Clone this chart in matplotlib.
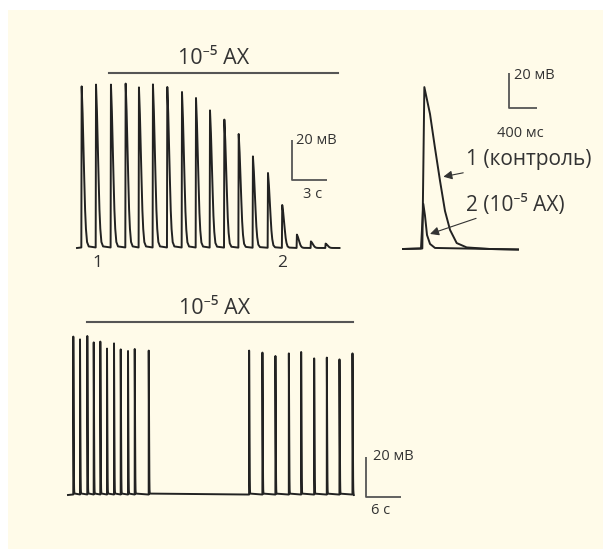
import numpy as np
import matplotlib
matplotlib.use("Agg")
import matplotlib.pyplot as plt
from matplotlib.patches import Rectangle

plt.rcParams['font.family'] = ['Open Sans', 'Noto Sans', 'DejaVu Sans']

# ---------------- data ----------------
# Inset: single action potentials (time in ms, voltage in mV above baseline)
control_t_ms = [0, 276, 305, 386, 457, 529, 600, 672, 767, 910, 1243, 1643]
control_mv = [0, 0.3, 92.5, 77.1, 57.7, 38.9, 21.7, 10.9, 3.4, 0.9, 0, -0.3]
ax_t_ms = [0, 257, 290, 314, 343, 386, 457, 1643]
ax_mv = [0, 0.3, 25.8, 19.1, 8.0, 2.9, 0.6, -0.3]

# Top trace: spike peak times (s) and amplitudes (mV)
top_spike_t = [0.40, 1.63, 2.91, 4.17, 5.31, 6.51, 7.74, 9.00, 10.20, 11.40,
               12.63, 13.86, 15.08, 16.37, 17.59, 18.85, 20.05, 21.31]
top_spike_amp = [80.8, 81.7, 81.7, 82.2, 80.3, 81.8, 80.5, 78.0, 75.0, 68.8,
                 64.2, 57.0, 45.8, 37.5, 21.5, 6.7, 3.3, 2.2]
top_duration = 22.5
top_drug = (2.77, 22.4)

# Bottom trace: spike peak times (s) and amplitudes (mV)
bot_spike_t = [0.91, 2.06, 3.31, 4.41, 5.54, 6.69, 7.89, 9.04, 10.29, 11.44,
               13.84, 31.05, 33.33, 35.56, 37.86, 39.97, 42.20, 44.37, 46.54, 48.77]
bot_spike_amp = [79.2, 77.8, 79.5, 76.3, 76.7, 73.2, 75.8, 72.8, 72.0, 73.0,
                 72.2, 72.2, 71.2, 69.5, 70.8, 71.5, 68.3, 68.7, 67.8, 70.8]
bot_duration = 49.0
bot_drug = (3.2, 48.9)

drug_label = "10\u207b\u2075 AX"

# ---------------- helpers ----------------
W, H = 603, 549
fig = plt.figure(figsize=(W / 100, H / 100), dpi=100)
fig.patch.set_facecolor('white')
fig.patches.append(Rectangle((8 / W, 0), 1, 1 - 10 / H, transform=fig.transFigure,
                             facecolor='#fffbe9', edgecolor='none', zorder=-10))

TRACE = '#222222'
GREY = '#555555'
TXT = '#333333'


def make_axes(ox, oy, sx, sy, xlim, ylim):
    """ox, oy: pixel position of data origin; sx, sy: pixels per data unit."""
    left = (ox + sx * xlim[0]) / W
    right = (ox + sx * xlim[1]) / W
    top_px = oy - sy * ylim[1]
    bot_px = oy - sy * ylim[0]
    a = fig.add_axes([left, 1 - bot_px / H, right - left, (bot_px - top_px) / H])
    a.set_xlim(xlim)
    a.set_ylim(ylim)
    a.axis('off')
    a.patch.set_alpha(0)
    return a


# spike template (shape) taken from the control potential, relative to its peak
pk = int(np.argmax(control_mv))
tmpl_t = (np.array(control_t_ms[1:-2]) - control_t_ms[pk]) / 1000.0
tmpl_f = np.array(control_mv[1:-2]) / control_mv[pk]


def build_trace(times, amps, duration, width=1.0):
    ts, vs = [0.0], [0.0]
    for t, a in zip(times, amps):
        ts.extend(t + width * tmpl_t)
        vs.extend(a * tmpl_f)
    ts.append(duration)
    vs.append(0.0)
    return np.array(ts), np.array(vs)


def scale_bar(a, x, y, dx, dy, lab_v, lab_h, v_txt_xy, h_txt_xy, fs=10.5):
    a.plot([x, x, x + dx], [y + dy, y, y], color=GREY, lw=1.3, solid_capstyle='butt',
           clip_on=False)
    a.text(*v_txt_xy, lab_v, ha='left', va='center', fontsize=fs, color=TXT)
    a.text(*h_txt_xy, lab_h, ha='center', va='center', fontsize=fs, color=TXT)


# ---------------- top-left trace ----------------
a1 = make_axes(77, 248, 35 / 3, 2.0, (-1, 24), (-15, 100))
t, v = build_trace(top_spike_t, top_spike_amp, top_duration)
a1.plot(t, v, color=TRACE, lw=1.4, clip_on=False)
a1.plot(top_drug, [87.4, 87.4], color=GREY, lw=1.5, clip_on=False)
a1.text(11.74, 94.5, drug_label, ha='center', va='center', fontsize=15.5, color=TXT)
scale_bar(a1, 18.4, 34, 3, 20, "20 мВ", "3 с", (18.8, 53.5), (20.2, 27))
a1.text(1.74, -7.7, "1", ha='center', va='center', fontsize=12.5, color=TXT)
a1.text(17.57, -7.7, "2", ha='center', va='center', fontsize=12.5, color=TXT)

# ---------------- inset ----------------
a2 = make_axes(403, 249, 0.07, 1.75, (-50, 2700), (-10, 110))
a2.plot(control_t_ms, control_mv, color=TRACE, lw=1.4, clip_on=False)
a2.plot(ax_t_ms, ax_mv, color=TRACE, lw=1.4, clip_on=False)
scale_bar(a2, 1519, 80.6, 400, 20, "20 мВ", "400 мс", (1590, 99.4), (1671, 66))
arrow = dict(arrowstyle='-|>', color=TXT, lw=0.8, mutation_scale=13,
             shrinkA=0, shrinkB=0)
a2.annotate("1 (контроль)", xy=(576, 41.3), xytext=(900, 50.9), ha='left', va='center',
            fontsize=15, color=TXT, arrowprops=arrow)
a2.annotate("2 (" + drug_label + ")", xy=(386, 8.6), xytext=(900, 25.1), ha='left',
            va='center', fontsize=15, color=TXT, arrowprops=arrow)

# ---------------- bottom trace ----------------
a3 = make_axes(68, 495, 35 / 6, 2.0, (-2, 60), (-15, 100))
t, v = build_trace(bot_spike_t, bot_spike_amp, bot_duration, width=0.3)
a3.plot(t, v, color=TRACE, lw=1.4, clip_on=False)
a3.plot(bot_drug, [86.4, 86.4], color=GREY, lw=1.5, clip_on=False)
a3.text(25.2, 93.5, drug_label, ha='center', va='center', fontsize=15.5, color=TXT)
scale_bar(a3, 51.06, -1, 6, 20, "20 мВ", "6 с", (52.3, 19.5), (53.5, -7.5))

fig.savefig("out.png", dpi=100, facecolor=fig.get_facecolor())
